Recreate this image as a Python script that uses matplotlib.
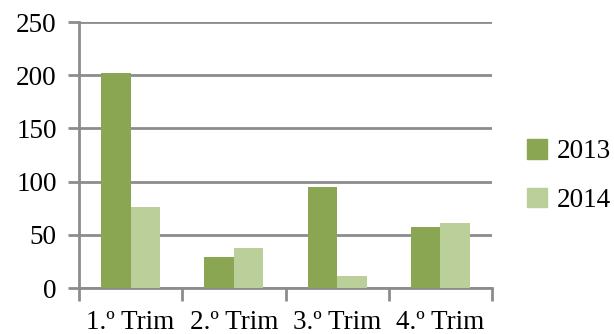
import matplotlib
matplotlib.use("Agg")
import matplotlib.pyplot as plt
import numpy as np
from matplotlib.patches import Patch

categories = ["1.º Trim", "2.º Trim", "3.º Trim", "4.º Trim"]
series_names = ["2013", "2014"]
values_2013 = [202, 29, 95, 57]
values_2014 = [76, 38, 11, 61]
yticks = [0, 50, 100, 150, 200, 250]

colors = ["#8BA652", "#BBCF9A"]
grid_color = "#8C8C8C"
font = ["Liberation Serif", "DejaVu Serif"]
fs = 19.5

fig = plt.figure(figsize=(6.14, 3.34), dpi=100)
ax = fig.add_axes([79/614, 1 - 288/334, (492-79)/614, (288-22)/334])

x = np.arange(len(categories))
w = 0.286
ax.bar(x - w/2, values_2013, w, color=colors[0], zorder=3)
ax.bar(x + w/2, values_2014, w, color=colors[1], zorder=3)

ax.set_xlim(-0.5, len(categories) - 0.5)
ax.set_ylim(0, 250)
ax.set_yticks(yticks)
ax.set_yticklabels([str(t) for t in yticks], fontfamily=font, fontsize=fs)
ax.yaxis.grid(True, color=grid_color, linewidth=2, zorder=0)
ax.set_axisbelow(True)

ax.set_xticks(x)
ax.set_xticklabels(categories, fontfamily=font, fontsize=fs)
ax.tick_params(axis="x", which="major", length=0, pad=16)
ax.set_xticks(np.arange(-0.5, len(categories)), minor=True)
ax.tick_params(axis="x", which="minor", length=9, width=2, color=grid_color)
ax.tick_params(axis="y", length=8, width=2, color=grid_color, pad=8)

for s in ["top", "right"]:
    ax.spines[s].set_visible(False)
for s in ["left", "bottom"]:
    ax.spines[s].set_color(grid_color)
    ax.spines[s].set_linewidth(2)

handles = [Patch(color=c, label=n) for c, n in zip(colors, series_names)]
leg = fig.legend(handles=handles, loc="center left", bbox_to_anchor=(527/614, 1 - 176/334),
                 frameon=False, prop={"family": font, "size": fs},
                 handlelength=0.75, handleheight=0.75, handletextpad=0.35, labelspacing=0.85,
                 borderaxespad=0, borderpad=0)

fig.savefig("out.png", dpi=100)
